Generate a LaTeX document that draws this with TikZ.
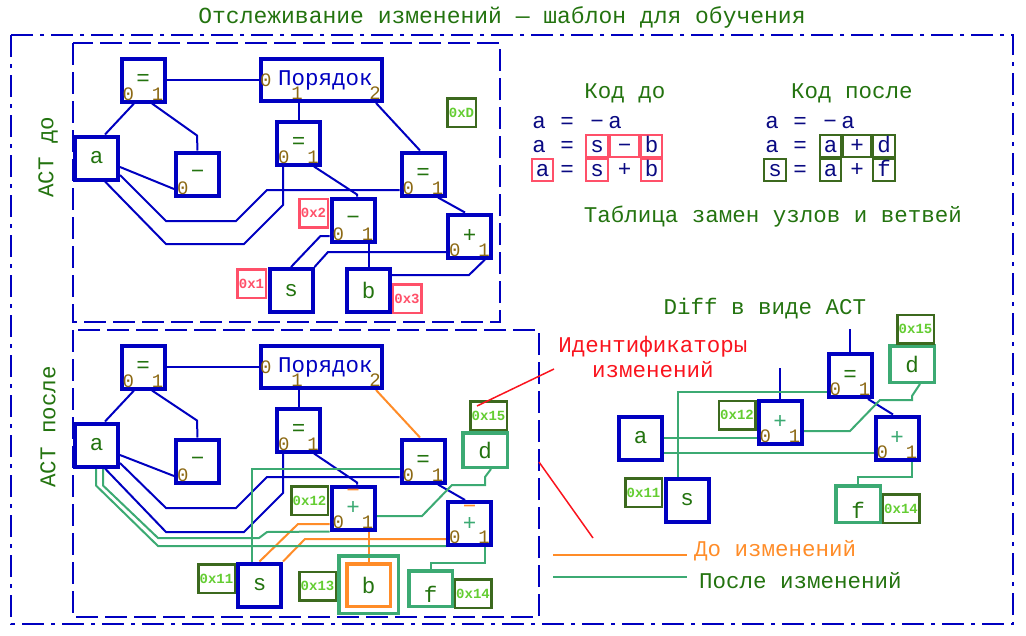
\documentclass[tikz,border=0pt]{standalone}
\usepackage{fontspec}
\setmainfont{Liberation Mono}
\usepackage{tikz}
\usetikzlibrary{positioning,backgrounds}
\definecolor{AstBlue}{RGB}{0,0,192}
\definecolor{CodeBlue}{RGB}{10,10,130}
\definecolor{LeafGreen}{RGB}{35,115,15}
\definecolor{PortBrown}{RGB}{140,105,20}
\definecolor{IdRed}{RGB}{255,80,105}
\definecolor{IdLime}{RGB}{100,205,50}
\definecolor{IdFrame}{RGB}{60,105,30}
\definecolor{NewTeal}{RGB}{60,170,115}
\definecolor{OldOrange}{RGB}{255,140,40}
\definecolor{NoteRed}{RGB}{250,20,30}
\newcommand\bigtxt{\fontsize{22.5}{25}\selectfont}
\newcommand\titletxt{\fontsize{23}{27}\selectfont}
\newcommand\porttxt{\fontsize{19}{22}\selectfont}
\newcommand\idtxt{\bfseries\fontsize{14}{16}\selectfont}
\tikzset{
  opnode/.style={draw=AstBlue,line width=4pt,minimum width=43pt,minimum height=43pt,
    inner sep=0pt,text=LeafGreen,font=\bigtxt},
  portnum/.style={text=PortBrown,inner sep=1pt,font=\porttxt},
  lport/.style={label={[portnum,anchor=south west,xshift=2pt,yshift=2pt]south west:0}},
  rport/.style={label={[portnum,anchor=south east,xshift=-2pt,yshift=2pt]south east:1}},
  ports/.style={lport,rport},
  ordnode/.style={opnode,text=AstBlue,minimum width=121pt,minimum height=42pt,
    label={[portnum,anchor=west]west:0},
    label={[portnum,anchor=south,xshift=-24.5pt,yshift=2pt]south:1},
    label={[portnum,anchor=south east,xshift=-2pt,yshift=2pt]south east:2}},
  changed/.style={opnode,ports,text=NewTeal,
    label={[text=OldOrange,font=\bigtxt,anchor=north,inner sep=0pt,yshift=-5pt]north:−}},
  leafnew/.style={draw=NewTeal,line width=3.5pt,inner sep=0pt,text=LeafGreen,font=\bigtxt,
    minimum width=44.5pt,minimum height=35pt},
  leafold/.style={draw=OldOrange,line width=3.5pt,inner sep=0pt,text=LeafGreen,font=\bigtxt,
    minimum width=43.5pt,minimum height=42.5pt},
  idold/.style={draw=IdRed,text=IdRed,line width=2.5pt,inner sep=0pt,
    minimum width=28.5pt,minimum height=28.5pt,font=\idtxt},
  idnew/.style={draw=IdFrame,text=IdLime,line width=2.5pt,inner sep=0pt,
    minimum width=36.5pt,minimum height=28.5pt,font=\idtxt},
  heading/.style={text=LeafGreen,font=\bigtxt,inner sep=0pt},
  codetxt/.style={text=CodeBlue,font=\bigtxt,inner sep=0pt,text height=12pt,text depth=0pt},
  cellold/.style={codetxt,draw=IdRed,line width=2pt,minimum height=22pt},
  cellnew/.style={codetxt,draw=IdFrame,line width=2pt,minimum height=22pt},
  astlink/.style={AstBlue,line width=2pt},
  oldlink/.style={OldOrange,line width=2pt},
  newlink/.style={NewTeal,line width=2pt},
  pointer/.style={NoteRed,line width=1.5pt},
  panel/.style={draw=AstBlue,line width=2pt,dash pattern=on 22pt off 7pt},
  outerframe/.style={draw=AstBlue,line width=2.5pt,dash pattern=on 22pt off 7pt on 4pt off 7pt}
}

\begin{document}
\begin{tikzpicture}[x=1pt,y=-1pt]
\useasboundingbox (0,0) rectangle (1026,635);

% frames
\draw[outerframe] (11,35) rectangle (1013,624);
\draw[panel] (73,43) rectangle (500,322);
\draw[panel] (73,330) rectangle (539,617);

\node[heading,font=\titletxt] (title) at (502,17) {Отслеживание изменений — шаблон для обучения};
\node[heading,rotate=90] (lblold) at (48,157) {АСТ до};
\node[heading,rotate=90] (lblnew) at (48,427) {АСТ после};

% AST before
\node[opnode,ports] (teq1) at (143,80) {=};
\node[ordnode] (tord) at (321.5,80) {\hspace{8pt}Порядок};
\node[opnode] (ta) at (96.5,158) {a};
\node[opnode,lport] (tneg) at (197.5,174) {−};
\node[opnode,ports] (teq2) at (298.5,143) {=};
\node[opnode,ports] (teq3) at (423,174) {=};
\node[opnode,ports] (tsub) at (353,220) {−};
\node[opnode,ports] (tadd) at (469.5,236) {+};
\node[opnode] (ts) at (291,290.5) {s};
\node[opnode] (tb) at (368.5,290.5) {b};
\node[idold] (tid2) at (313.5,213) {0x2};
\node[idold] (tid1) at (251.5,283.5) {0x1};
\node[idold] (tid3) at (407,298.5) {0x3};
\node[idnew,minimum width=28.5pt] (tidD) at (461.5,112.5) {0xD};

% AST after
\node[opnode,ports] (beq1) at (143,367) {=};
\node[ordnode] (bord) at (321.5,367) {\hspace{8pt}Порядок};
\node[opnode] (ba) at (96.5,445) {a};
\node[opnode,lport] (bneg) at (197.5,461) {−};
\node[opnode,ports] (beq2) at (298.5,430) {=};
\node[opnode,ports] (beq3) at (423,461) {=};
\node[changed] (bm1) at (353,508) {+};
\node[changed] (bm2) at (469.5,523.5) {+};
\node[opnode] (bs) at (259.5,585) {s};
\node[leafnew,minimum width=59.5pt,minimum height=57.5pt] (bbnew) at (368.5,584.5) {};
\node[leafold] (bb) at (368.5,585) {b};
\node[leafnew,minimum height=34.5pt] (bd) at (485,450) {d};
\node[leafnew,minimum width=43.5pt,minimum height=35.5pt,text height=28pt] (bf) at (430.5,588.5) {f};
\node[idnew] (bid15) at (488.5,415.5) {0x15};
\node[idnew] (bid12) at (309.5,500.5) {0x12};
\node[idnew] (bid11) at (216.5,578.5) {0x11};
\node[idnew] (bid13) at (317.5,586) {0x13};
\node[idnew] (bid14) at (473,593.5) {0x14};

% diff
\node[heading] (difftitle) at (765,309) {Diff в виде АСТ};
\node[opnode,ports] (deq) at (850,375.5) {=};
\node[leafnew,minimum height=36.5pt] (dd) at (912,364) {d};
\node[opnode,ports,text=NewTeal] (dadd1) at (780,422.5) {+};
\node[opnode] (da) at (640.5,438) {a};
\node[opnode] (ds) at (687,500) {s};
\node[opnode,ports,text=NewTeal] (dadd2) at (897,438) {+};
\node[leafnew,minimum height=36.5pt,text height=28pt] (df) at (858,504) {f};
\node[idnew] (did12) at (737,415) {0x12};
\node[idnew] (did11) at (643.5,492.5) {0x11};
\node[idnew] (did15) at (915.5,329) {0x15};
\node[idnew] (did14) at (901,508.5) {0x14};
\coordinate (dtopA) at (850,329);
\coordinate (dtopB) at (780,368);

% code table
\node[heading] (codeold) at (625,93) {Код до};
\node[heading] (codenew) at (852,93) {Код после};
\foreach \t/\x [count=\i] in {a/539,=/567,−/597,a/615}
  \node[codetxt] (old1-\i) at (\x,122) {\t};
\node[codetxt] (old2-1) at (539,146) {a};
\node[codetxt] (old2-2) at (567,146) {=};
\node[cellold,minimum width=22pt] (old2-3) at (597,146) {s};
\node[cellold,minimum width=29pt] (old2-4) at (624.5,146) {−};
\node[cellold,minimum width=21pt] (old2-5) at (651.5,146) {b};
\node[cellold,minimum width=21pt] (old3-1) at (542.5,170) {a};
\node[codetxt] (old3-2) at (567,170) {=};
\node[cellold,minimum width=22pt] (old3-3) at (597,170) {s};
\node[codetxt] (old3-4) at (624.5,170) {+};
\node[cellold,minimum width=21pt] (old3-5) at (651.5,170) {b};
\foreach \t/\x [count=\i] in {a/772,=/800,−/830,a/848}
  \node[codetxt] (new1-\i) at (\x,122) {\t};
\node[codetxt] (new2-1) at (772,146) {a};
\node[codetxt] (new2-2) at (800,146) {=};
\node[cellnew,minimum width=21pt] (new2-3) at (830.5,146) {a};
\node[cellnew,minimum width=28pt] (new2-4) at (857,146) {+};
\node[cellnew,minimum width=22pt] (new2-5) at (884,146) {d};
\node[cellnew,minimum width=22pt] (new3-1) at (775,170) {s};
\node[codetxt] (new3-2) at (800,170) {=};
\node[cellnew,minimum width=21pt] (new3-3) at (830.5,170) {a};
\node[codetxt] (new3-4) at (857,170) {+};
\node[cellnew,minimum width=22pt] (new3-5) at (884,170) {f};
\node[heading] (swaptable) at (773,217) {Таблица замен узлов и ветвей};

% notes and legend
\node[text=NoteRed,font=\bigtxt,align=center,inner sep=0pt] (note) at (653,357) {Идентификаторы\\изменений};
\coordinate (ptrA) at (554,369);
\coordinate (ptrB1) at (539,462);
\coordinate (ptrB2) at (593,538);
\node[anchor=west,text=OldOrange,font=\bigtxt,inner sep=0pt] (legold) at (694,551) {До изменений};
\node[anchor=west,text=LeafGreen,font=\bigtxt,inner sep=0pt] (legnew) at (699,581) {После изменений};
\coordinate (legoldA) at (553,555);
\coordinate (legoldB) at (687,555);
\coordinate (legnewA) at (553,577);
\coordinate (legnewB) at (687,577);

\draw[pointer] ([xshift=8pt,yshift=-6pt]bid15.north west) -- (ptrA);
\draw[pointer] (ptrB1) -- (ptrB2);
\draw[oldlink] (legoldA) -- (legoldB);
\draw[newlink] (legnewA) -- (legnewB);

\begin{scope}[on background layer]
% before
\draw[astlink] (teq1.east) -- (tord.west);
\draw[astlink] ([xshift=-9pt]teq1.south) -- ([xshift=8.5pt]ta.north);
\draw[astlink] ([xshift=9pt]teq1.south) -- ++(45,32) -- (tneg.north);
\draw[astlink] ([yshift=-9pt]ta.east) -- ([yshift=-15pt]tneg.west);
\draw[astlink] (tord.south -| teq2) -- (teq2.north);
\draw[astlink] ([xshift=54.5pt]tord.south) -- ([xshift=-3pt]teq3.north);
\draw[astlink] ([yshift=-17pt]ta.east) -- (166,221) -- (236,221) -- (267,190) -- ([yshift=-16pt]teq3.west);
\draw[astlink] ([xshift=8.5pt]ta.south) -- (166,244) -- (244,244) -- (283,205) -- ([xshift=-15.5pt]teq2.south);
\draw[astlink] ([xshift=15.5pt]teq2.south) -- ++(43,28) -- ([xshift=4pt]tsub.north);
\draw[astlink] ([xshift=15pt]teq3.south) -- ([xshift=-4.5pt]tadd.north);
\draw[astlink] ([yshift=-16pt]tsub.west) -- ++(-9,0) -- (ts.north);
\draw[astlink] (tsub.south -| tb) -- (tb.north);
\draw[astlink] (ts.north east) -- (328,252) -- ([yshift=-16pt]tadd.west);
\draw[astlink] ([yshift=15.5pt]tb.east) -- (469,275) -- ([xshift=15.5pt]tadd.south);
% after
\draw[astlink] (beq1.east) -- (bord.west);
\draw[astlink] ([xshift=-9pt]beq1.south) -- ([xshift=8.5pt]ba.north);
\draw[astlink] ([xshift=9pt]beq1.south) -- ++(45,30) -- (bneg.north);
\draw[astlink] ([yshift=-10pt]ba.east) -- ([yshift=-15pt]bneg.west);
\draw[astlink] (bord.south -| beq2) -- (beq2.north);
\draw[astlink] ([yshift=-18pt]ba.east) -- (166,508) -- (236,508) -- (267,477) -- ([yshift=-16pt]beq3.west);
\draw[astlink] ([xshift=8.5pt]ba.south) -- (166,532) -- (244,532) -- (283,493) -- ([xshift=-15.5pt]beq2.south);
\draw[astlink] ([xshift=15.5pt]beq2.south) -- ++(43,29) -- ([xshift=4pt]bm1.north);
\draw[astlink] ([xshift=15pt]beq3.south) -- ([xshift=-4.5pt]bm2.north);
\draw[oldlink] ([xshift=54.5pt]bord.south) -- ([xshift=-3pt]beq3.north);
\draw[oldlink] ([yshift=-16pt]bm1.west) -- (298,524) -- (bs.north);
\draw[oldlink] (bm1.south -| bb) -- (bb.north);
\draw[oldlink] (bs.north east) -- (305,539) -- ([yshift=-15.5pt]bm2.west);
\draw[newlink] ([yshift=-8pt]beq3.west) -| ([xshift=-7.5pt]bs.north);
\draw[newlink] ([yshift=-8pt]bm1.east) -- (422,516) -- (452,485) -- (485,485) -- (485,477) -- ([xshift=6pt]bd.south);
\draw[newlink] ([xshift=-0.5pt]ba.south) -- ++(0,17) -- (158,546) -- ([yshift=1pt]bm2.south west);
\draw[newlink] ([xshift=6.5pt]ba.south) -- ++(0,17) -- (158,538) -- (259,538) -- (267,532) -- (bm1.south west);
\draw[newlink] ([xshift=15.5pt]bm2.south) -- ++(0,16) -| (bf.north);
% diff
\draw[astlink] (dtopA) -- (deq.north);
\draw[astlink] (dtopB) -- (dadd1.north);
\draw[astlink] ([xshift=18pt]deq.south) -- ([xshift=-4pt]dadd2.north);
\draw[newlink] ([yshift=-16.5pt]deq.west) -| ([xshift=-9pt]ds.north);
\draw[newlink] (da.east) -- ([yshift=-15.5pt]dadd1.west);
\draw[newlink] ([yshift=-8.5pt]dadd1.east) -- (850,431) -- (880,400) -- (912,400) -- (912,396) -- ([xshift=8pt]dd.south);
\draw[newlink] ([yshift=-15pt]da.east) -- ([yshift=-15pt]dadd2.west);
\draw[newlink] ([xshift=15pt]dadd2.south) -- ++(0,15) -| (df.north);
\end{scope}

\end{tikzpicture}
\end{document}
